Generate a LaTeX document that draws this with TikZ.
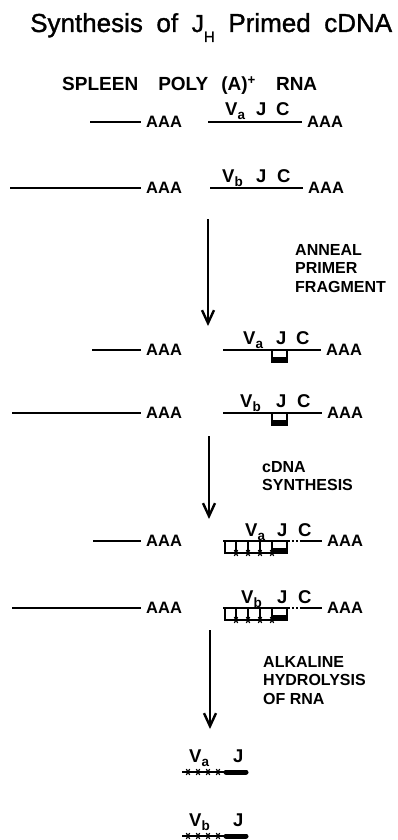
\documentclass[tikz,border=0pt]{standalone}
\usepackage{fontspec}
\setmainfont{Liberation Sans}
\newfontfamily\headfont[FakeBold=1.2]{Liberation Sans}
\usetikzlibrary{arrows.meta}

% lowered letter for V_a, V_b
\newcommand\lsub[1]{\raisebox{-4pt}{\fontsize{13.5}{13.5}\selectfont #1}}

\begin{document}
\begin{tikzpicture}[x=1pt,y=-1pt,
  rna/.style={line width=1.9pt},
  thinrule/.style={line width=1.2pt},
  lab/.style={font=\fontsize{18.5}{18.5}\selectfont\bfseries, inner sep=0pt, anchor=base west},
  tail/.style={font=\fontsize{16.5}{16.5}\selectfont\bfseries, inner xsep=5pt, inner ysep=0pt, anchor=west},
  stepnote/.style={font=\fontsize{16}{18.5}\selectfont\bfseries, inner sep=0pt, anchor=north west, align=left},
  flow/.style={line width=1.9pt, -{Straight Barb[length=13pt,width=12pt,line width=2.4pt]}},
  star mark/.pic={\draw[line width=1.2pt] (-3.3,0)--(3.3,0) (-1.7,-2.9)--(1.7,2.9) (-1.7,2.9)--(1.7,-2.9);},
]
\useasboundingbox (0,0) rectangle (398,840);

% heading
\node[anchor=base west, inner sep=0pt, font=\headfont\fontsize{26}{26}\selectfont] (title) at (30,32)
  {\makebox[362pt][s]{Synthesis of {\fontsize{24.5}{24.5}\selectfont J}\raisebox{-10pt}{\fontsize{15}{15}\selectfont H} Primed cDNA}};
\node[anchor=base west, inner sep=0pt, font=\fontsize{19}{19}\selectfont\bfseries] (src) at (62,91)
  {\makebox[255pt][s]{SPLEEN\hspace{0pt plus 1fil}POLY\hspace{0pt plus 0.65fil}(A)\textsuperscript{+}\hspace{0pt plus 1fil}RNA}};

% ---- mRNA, rows 1 and 2
\coordinate (r1a) at (90,122);  \node[tail] (r1t) at (141,122) {AAA};
\draw[rna] (r1a) -- (r1t.west);
\coordinate (r1b) at (208,122); \node[tail] (r1u) at (302,122) {AAA};
\draw[rna] (r1b) -- (r1u.west);
\node[lab] (v1) at (225,116) {V\lsub{a}};
\node[lab] (j1) at (256,116) {J};
\node[lab] (c1) at (276,116) {C};

\coordinate (r2a) at (10,188);  \node[tail] (r2t) at (141,188) {AAA};
\draw[rna] (r2a) -- (r2t.west);
\coordinate (r2b) at (210,188); \node[tail] (r2u) at (303,188) {AAA};
\draw[rna] (r2b) -- (r2u.west);
\node[lab] (v2) at (222,182) {V\lsub{b}};
\node[lab] (j2) at (256,182) {J};
\node[lab] (c2) at (277,182) {C};

% step 1
\coordinate (a1s) at (208,219); \coordinate (a1e) at (208,326);
\draw[flow] (a1s) -- (a1e);
\node[stepnote] (n1) at (295,244) {ANNEAL\\PRIMER\\FRAGMENT};

% ---- primer annealed, rows 3 and 4
\coordinate (r3a) at (92,350);  \node[tail] (r3t) at (141,350) {AAA};
\draw[rna] (r3a) -- (r3t.west);
\coordinate (r3b) at (223,350); \node[tail] (r3u) at (321,350) {AAA};
\draw[rna] (r3b) -- (r3u.west);
\node[lab] (v3) at (243,344) {V\lsub{a}};
\node[lab] (j3) at (276,344) {J};
\node[lab] (c3) at (296,344) {C};
\draw[thinrule] (272,350) |- (287,362) -- (287,350);
\fill (272,357) rectangle (287,362.6);

\coordinate (r4a) at (12,413);  \node[tail] (r4t) at (141,413) {AAA};
\draw[rna] (r4a) -- (r4t.west);
\coordinate (r4b) at (223,413); \node[tail] (r4u) at (322,413) {AAA};
\draw[rna] (r4b) -- (r4u.west);
\node[lab] (v4) at (240,407) {V\lsub{b}};
\node[lab] (j4) at (276,407) {J};
\node[lab] (c4) at (297,407) {C};
\draw[thinrule] (272,413) |- (287,425) -- (287,413);
\fill (272,420) rectangle (287,425.6);

% step 2
\coordinate (a2s) at (209,436); \coordinate (a2e) at (209,519);
\draw[flow] (a2s) -- (a2e);
\node[stepnote] (n2) at (262,461) {cDNA\\SYNTHESIS};

% ---- cDNA made, rows 5 and 6
\foreach \row/\yy/\vx/\sub in {5/541/245/a, 6/608/241/b}{
  \node[tail] (r\row t) at (141,\yy) {AAA};
  \coordinate (r\row b) at (223,\yy);
  \coordinate (r\row c) at (288,\yy);
  \coordinate (r\row d) at (301,\yy);
  \node[tail] (r\row u) at (322,\yy) {AAA};
  \draw[rna] (r\row b) -- (r\row c);
  \draw[rna, dotted, line width=1.2pt] (r\row c) -- (r\row d);
  \draw[rna] (r\row d) -- (r\row u.west);
  \node[lab] (v\row) at (\vx,\yy-5) {V\lsub{\sub}};
  \node[lab] (j\row) at (277,\yy-5) {J};
  \node[lab] (c\row) at (298,\yy-5) {C};
  \draw[thinrule] (225,\yy) rectangle (287,\yy+12);
  \fill (273,\yy+7) rectangle (287,\yy+12.6);
  \foreach \sx in {236,248,260,272}{
    \draw[thinrule] (\sx,\yy) -- (\sx,\yy+12);
    \pic at (\sx,\yy+12) {star mark};
  }
}
\coordinate (r5a) at (93,541);
\draw[rna] (r5a) -- (r5t.west);
\coordinate (r6a) at (12,608);
\draw[rna] (r6a) -- (r6t.west);

% step 3
\coordinate (a3s) at (210,630); \coordinate (a3e) at (210,729);
\draw[flow] (a3s) -- (a3e);
\node[stepnote] (n3) at (263,656) {ALKALINE\\HYDROLYSIS\\OF RNA};

% ---- released cDNA
\foreach \k/\yy/\sub in {1/772/a, 2/836/b}{
  \coordinate (p\k a) at (182,\yy);
  \coordinate (p\k b) at (226,\yy);
  \coordinate (p\k c) at (246,\yy);
  \draw[line width=1.8pt] (p\k a) -- (p\k b);
  \draw[line width=5pt, line cap=round] (p\k b) -- (p\k c);
  \foreach \sx in {188,198,208,218}{ \pic at (\sx,\yy) {star mark}; }
  \node[lab] (pv\k) at (189,\yy-10) {V\lsub{\sub}};
  \node[lab] (pj\k) at (233,\yy-10) {J};
}
\end{tikzpicture}
\end{document}
